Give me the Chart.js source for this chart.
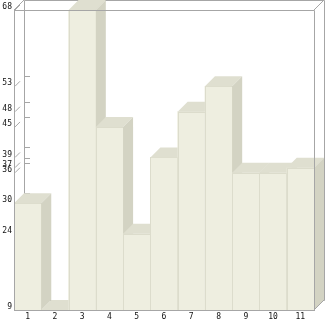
<!DOCTYPE html>
<html>
<head>
<meta charset="utf-8">
<script src="https://cdn.jsdelivr.net/npm/chart.js@4"></script>
<style>
body { margin: 0; background: #fff; }
canvas { display: block; }
</style>
</head>
<body>
<canvas id="graphCanvas" width="326" height="321"></canvas>
<script>
var categories = ['1', '2', '3', '4', '5', '6', '7', '8', '9', '10', '11'];
var values = [30, 9, 68, 45, 24, 39, 48, 53, 36, 36, 37];
var yTicks = [9, 24, 30, 36, 37, 39, 45, 48, 53, 68];

var DEPTH = 10;
var lineColor = '#a6a6a6';
var frontColor = '#eeeee0';
var topColor = '#dfdfd0';
var sideColor = '#d3d3c3';
var edgeColor = '#dcdccc';

function line(ctx, x1, y1, x2, y2) {
    ctx.beginPath();
    ctx.moveTo(x1, y1);
    ctx.lineTo(x2, y2);
    ctx.stroke();
}

function poly(ctx, pts, color) {
    ctx.beginPath();
    ctx.moveTo(pts[0][0], pts[0][1]);
    for (var i = 1; i < pts.length; i++) {
        ctx.lineTo(pts[i][0], pts[i][1]);
    }
    ctx.closePath();
    ctx.fillStyle = color;
    ctx.fill();
}

// back wall + tick connectors, then 3d bars, then the front frame
var box3d = {
    id: 'box3d',
    beforeDatasetsDraw: function (chart) {
        var ctx = chart.ctx, a = chart.chartArea, ys = chart.scales.y;
        ctx.save();
        ctx.strokeStyle = lineColor;
        ctx.lineWidth = 1;
        var bl = a.left + DEPTH + 0.5, bt = a.top - DEPTH + 0.5;
        var br = a.right + DEPTH + 0.5, bb = a.bottom - DEPTH + 0.5;
        line(ctx, bl, bt, br, bt);
        line(ctx, bl, bt, bl, bb);
        line(ctx, br, bt, br, bb);
        line(ctx, bl, bb, br, bb);
        line(ctx, a.left, a.bottom, a.left + DEPTH, a.bottom - DEPTH);
        for (var i = 0; i < yTicks.length; i++) {
            var py = ys.getPixelForValue(yTicks[i]);
            line(ctx, a.left + 1, py, a.left + 6, py - 5);
            var by = Math.round(py - DEPTH) + 0.5;
            line(ctx, a.left + DEPTH + 1, by, a.left + DEPTH + 6, by);
        }
        ctx.restore();
    },
    afterDatasetsDraw: function (chart) {
        var ctx = chart.ctx, a = chart.chartArea;
        var meta = chart.getDatasetMeta(0);
        ctx.save();
        meta.data.forEach(function (bar) {
            var left = bar.x - bar.width / 2, right = bar.x + bar.width / 2;
            var top = bar.y, base = Math.min(bar.base, a.bottom);
            ctx.fillStyle = frontColor;
            ctx.fillRect(left, top, right - left, base - top);
            ctx.strokeStyle = edgeColor;
            ctx.lineWidth = 1;
            if (base - top > 1) {
                ctx.strokeRect(Math.round(left) + 0.5, Math.round(top) + 0.5, Math.round(right - left), Math.round(base - top));
            }
            poly(ctx, [[left, top], [left + DEPTH, top - DEPTH], [right + DEPTH, top - DEPTH], [right, top]], topColor);
            poly(ctx, [[right, top], [right + DEPTH, top - DEPTH], [right + DEPTH, base - DEPTH], [right, base]], sideColor);
        });
        ctx.restore();
    },
    afterDraw: function (chart) {
        var ctx = chart.ctx, a = chart.chartArea;
        ctx.save();
        ctx.strokeStyle = lineColor;
        ctx.lineWidth = 1;
        var t = a.top + 0.5, r = a.right + 0.5;
        line(ctx, a.left, t, r, t);
        line(ctx, r, t, r, a.bottom);
        line(ctx, a.left, a.top, a.left + DEPTH, a.top - DEPTH);
        line(ctx, a.right, a.top, a.right + DEPTH, a.top - DEPTH);
        line(ctx, a.right, a.bottom, a.right + DEPTH, a.bottom - DEPTH);
        ctx.restore();
    }
};

Chart.defaults.font.family = "'DejaVu Sans Mono', monospace";
Chart.defaults.font.size = 8;
Chart.defaults.color = '#111';

var graphTarget = document.getElementById('graphCanvas');
var barGraph = new Chart(graphTarget, {
    type: 'bar',
    data: {
        labels: categories,
        datasets: [{
            data: values,
            base: 9,
            backgroundColor: frontColor,
            borderWidth: 0,
            categoryPercentage: 1,
            barPercentage: 1
        }]
    },
    options: {
        responsive: false,
        animation: false,
        devicePixelRatio: 1,
        layout: { padding: { top: 10, right: 12, left: 0, bottom: 0 } },
        plugins: { legend: { display: false }, tooltip: { enabled: false } },
        scales: {
            x: {
                grid: { display: false, drawTicks: false },
                border: { display: true, color: lineColor, width: 1, z: 1 },
                ticks: { padding: 2, maxRotation: 0, autoSkip: false },
                afterFit: function (s) { s.height = 11; }
            },
            y: {
                min: 9,
                max: 68,
                grid: { display: false, drawTicks: false },
                border: { display: true, color: lineColor, width: 1, z: 1 },
                ticks: { padding: 2, autoSkip: false, labelOffset: -3 },
                afterBuildTicks: function (s) {
                    s.ticks = yTicks.map(function (v) { return { value: v }; });
                },
                afterFit: function (s) { s.width = 14; }
            }
        }
    },
    plugins: [box3d]
});
</script>
</body>
</html>
